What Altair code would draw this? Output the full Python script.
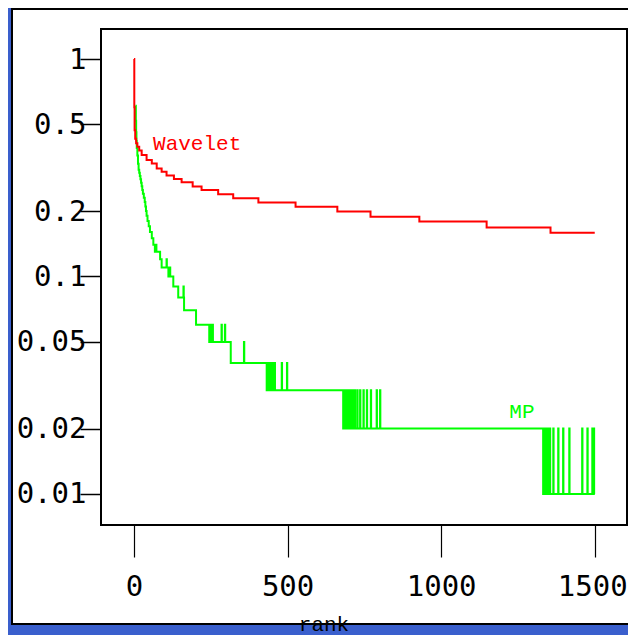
import altair as alt
import pandas as pd

# ---- Wavelet (red) : step curve, rank -> relative error
wav_rank = [0, 1, 2, 4, 7, 11, 17, 25, 41, 58, 74, 90, 106, 130, 155, 191, 220, 274,
            323, 405, 526, 662, 770, 929, 1148, 1356, 1500]
wav_val = [1.0, 0.6, 0.47, 0.43, 0.41, 0.395, 0.38, 0.362, 0.343, 0.331, 0.314, 0.303,
           0.291, 0.281, 0.271, 0.259, 0.250, 0.239, 0.229, 0.219, 0.209, 0.199, 0.188,
           0.179, 0.168, 0.159, 0.159]

# ---- MP (green) : step levels and one-rank spikes up by 0.01
mp_step_rank = [5, 6, 7, 8, 9, 11, 13, 15, 17, 19, 21, 23, 25, 27, 29, 32, 35, 37, 39, 41,
                44, 48, 52, 58, 63, 68, 85, 90, 112, 128, 144, 163, 202, 245, 315, 432, 681, 1332]
mp_step_val = [0.61, 0.52, 0.46, 0.42, 0.39, 0.36, 0.33, 0.31, 0.30, 0.29, 0.28, 0.27, 0.26,
               0.25, 0.24, 0.23, 0.22, 0.21, 0.20, 0.19, 0.18, 0.17, 0.16, 0.15, 0.14, 0.13,
               0.12, 0.11, 0.10, 0.09, 0.08, 0.07, 0.06, 0.05, 0.04, 0.03, 0.02, 0.01]
mp_spike_rank = [72, 106, 117, 161, 247, 250, 253, 256, 285, 296, 358,
                 434, 437, 440, 443, 446, 449, 452, 455, 458, 481, 498,
                 683, 687, 692, 697, 703, 708, 713, 719, 727, 736, 747, 758, 771, 790, 801,
                 1336, 1340, 1344, 1349, 1354, 1365, 1381, 1397, 1417, 1459, 1476, 1492, 1497]
mp_last_rank = 1500

# ---- annotations
wav_label = ["Wavelet"]
wav_label_rank = [62]
wav_label_val = [0.407]
mp_label = ["MP"]
mp_label_rank = [1263]
mp_label_val = [0.0238]

x_ticks = [0, 500, 1000, 1500]
y_ticks = [0.01, 0.02, 0.05, 0.1, 0.2, 0.5, 1]

# ---- build tables
wav_df = pd.DataFrame({"rank": wav_rank, "val": wav_val})
wav_df["ord"] = range(len(wav_df))

pts = []
for i, (r, v) in enumerate(zip(mp_step_rank, mp_step_val)):
    pts.append((r, 0, v))
    nxt = mp_step_rank[i + 1] if i + 1 < len(mp_step_rank) else mp_last_rank + 1
    for s in mp_spike_rank:
        if r <= s < nxt:
            pts.append((s, 1, round(v + 0.01, 3)))
            pts.append((s + 1, 2, v))
pts.append((mp_last_rank, 3, mp_step_val[-1]))
pts.sort(key=lambda p: (p[0], p[1]))
mp_df = pd.DataFrame({"rank": [p[0] for p in pts], "val": [p[2] for p in pts]})
mp_df["ord"] = range(len(mp_df))

wav_lab_df = pd.DataFrame({"rank": wav_label_rank, "val": wav_label_val, "label": wav_label})
mp_lab_df = pd.DataFrame({"rank": mp_label_rank, "val": mp_label_val, "label": mp_label})

x_enc = alt.X("rank:Q",
              scale=alt.Scale(domain=[-107.4, 1605], nice=False, zero=False),
              axis=alt.Axis(values=x_ticks, tickSize=32, tickWidth=1.2, tickColor="black",
                            domain=False, grid=False, labelFont="DejaVu Sans Mono",
                            labelFontSize=29, labelColor="black", labelPadding=29,
                            labelBaseline="middle", labelFlush=False, labelOverlap=False,
                            labelOffset=alt.condition("datum.value == 1500", alt.value(-2.5),
                                                      alt.value(0)),
                            format="d", title="rank", titleFont="Liberation Mono",
                            titleFontSize=21, titleFontWeight="normal", titleColor="black",
                            titleX=222.5, titleY=99, titleBaseline="middle",
                            titleAlign="center", zindex=1))
y_enc = alt.Y("val:Q",
              scale=alt.Scale(type="log", domain=[0.0072, 1.374], nice=False),
              axis=alt.Axis(values=y_ticks, tickSize=21, tickWidth=1.5, tickColor="black",
                            domain=False, grid=False, labelFont="DejaVu Sans Mono",
                            labelFontSize=29, labelColor="black", labelPadding=-6,
                            labelAlign="right", labelBaseline="middle", labelFlush=False,
                            labelOverlap=False, format="~g", title=None, zindex=1))

one = pd.DataFrame({"a": [0]})
panel = alt.Chart(one).mark_rect(fill="white", stroke="black", strokeWidth=2).encode(
    x=alt.value(-89), x2=alt.value(545), y=alt.value(-20), y2=alt.value(595))
frame = alt.Chart(one).mark_rect(fill="white", fillOpacity=0, stroke="black",
                                 strokeWidth=2).encode(
    x=alt.value(0), x2=alt.value(526), y=alt.value(0), y2=alt.value(496))

mp_line = alt.Chart(mp_df).mark_line(interpolate="step-after", color="#00FF00",
                                     strokeWidth=2).encode(x=x_enc, y=y_enc, order="ord:Q")
wav_line = alt.Chart(wav_df).mark_line(interpolate="step-after", color="#FF0000",
                                       strokeWidth=2).encode(x=x_enc, y=y_enc, order="ord:Q")
wav_text = alt.Chart(wav_lab_df).mark_text(font="Liberation Mono", fontSize=21, baseline="middle",
                                           align="left", color="#FF0000").encode(
    x=x_enc, y=y_enc, text="label:N")
mp_text = alt.Chart(mp_lab_df).mark_text(font="Liberation Mono", fontSize=21, baseline="middle",
                                         align="center", color="#00FF00").encode(
    x=x_enc, y=y_enc, text="label:N")

chart = alt.layer(panel, frame, mp_line, wav_line, wav_text, mp_text).properties(
    width=526, height=496,
    padding={"left": 93, "top": 21, "right": 1, "bottom": 110},
    autosize="none",
).configure(background="#3A5FCD").configure_view(fill="white", stroke=None)

chart.save("out.html", embed_options={"renderer": "svg", "actions": False})
